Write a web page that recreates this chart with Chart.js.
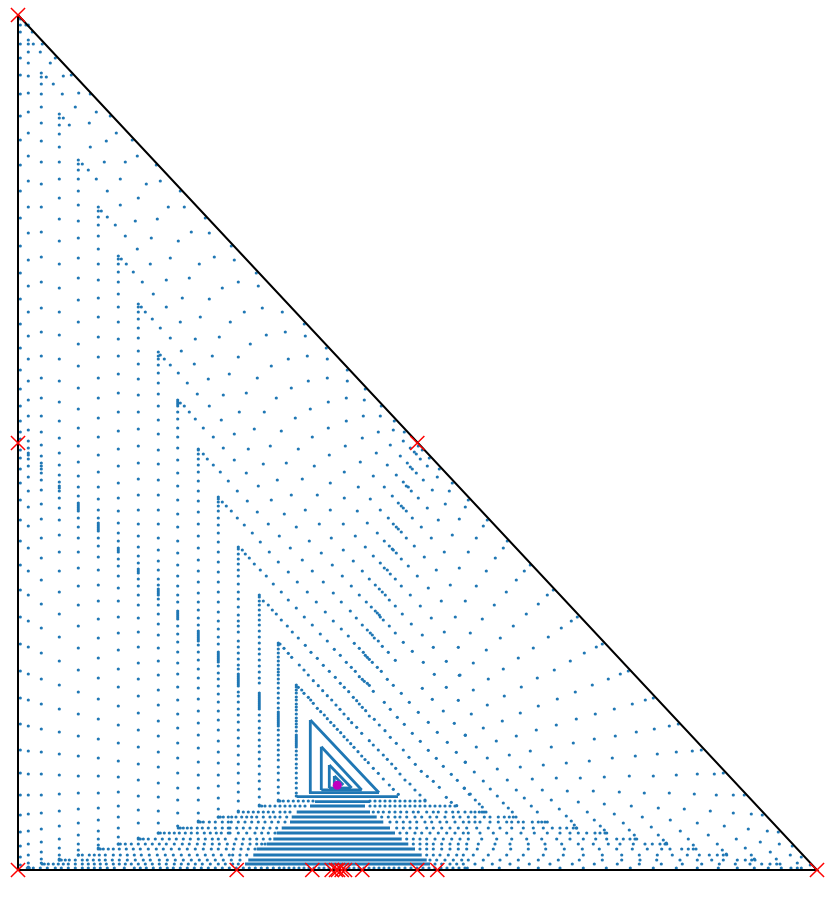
<!DOCTYPE html>
<html>
<head>
<meta charset="utf-8">
<script src="https://cdn.jsdelivr.net/npm/chart.js@4"></script>
<style>
html, body { margin: 0; padding: 0; background: #fff; }
canvas { display: block; }
</style>
</head>
<body>
<canvas id="field" width="840" height="898"></canvas>
<script>
const columnX = [2.3, 10.3, 23.3, 41.3, 60.3, 80.3, 100.3, 120.3, 140.3, 159.7, 180.3, 200.3, 220.3, 241.3, 260.3, 278.3];
const columnY = [
  [851,845,838,826,812,795,776,754,730,705,679,652,624,597,571,546,522,500,481,464,449,438,431,420,412,401,387,370,350,329,305,280,253,226,199,172,146,120,97,75,55,38,24,13,5],
  [845,830,826,818,807,794,777,758,737,714,689,663,637,610,584,558,534,511,489,470,454,440,429,422,417,415,411,404,393,379,363,344,322,299,275,249,223,196,170,144,119,96,75,56,39,26,15,7,3],
  [797,793,786,776,763,747,729,708,686,663,638,613,588,562,538,514,492,472,454,438,425,414,407,404,401,397,390,380,366,351,332,312,290,266,242,217,191,166,141,118,96,75,57,41,28,18,11,7],
  [756,752,745,736,723,708,691,672,651,629,606,582,558,535,511,489,468,449,432,417,405,395,388,384,382,379,372,362,350,335,318,299,278,256,233,209,185,161,138,116,95,76,59,44,31,22,15,11,10],
  [710,706,700,691,679,665,649,632,612,592,570,548,526,504,482,461,442,424,408,394,383,374,367,365,363,361,359,352,343,332,318,302,284,265,244,222,200,178,156,134,114,94,77,61,47,35,26,20,15],
  [663,659,653,645,634,621,606,590,572,553,533,513,492,472,452,433,415,398,383,371,360,352,347,345,343,341,339,332,324,313,300,285,269,251,232,212,192,171,151,131,112,94,77,62,50,39,31,25,22],
  [614,611,606,598,588,576,563,548,531,514,496,477,458,439,421,404,387,372,359,347,337,329,322,320,318,311,304,294,282,269,253,237,220,201,183,164,145,127,109,93,78,64,53,42,33,26],
  [566,563,558,551,542,532,519,506,491,475,458,441,424,407,391,375,360,346,334,323,314,307,301,299,297,291,284,275,265,252,238,223,207,191,174,157,140,123,106,90,74,60,47,32],
  [518,514,511,505,497,487,476,464,450,436,420,406,390,375,360,346,332,320,309,300,291,285,281,279,277,275,271,265,256,246,235,222,209,195,180,165,149,134,118,103,87,73,59,47,37],
  [470,468,466,464,458,451,442,433,422,410,397,384,370,356,343,329,317,305,294,284,275,268,259,257,255,253,251,244,236,228,218,207,196,183,170,156,142,127,112,97,82,70,57,44],
  [421,420,416,411,405,398,389,379,369,358,346,334,322,310,299,288,277,268,260,252,245,239,237,235,233,231,229,225,218,210,201,192,182,171,159,147,135,122,108,95,82,70,57,49],
  [373,371,368,364,359,352,345,337,328,318,308,298,288,278,268,258,249,241,233,226,218,216,214,212,210,208,204,197,191,184,176,168,159,150,140,129,118,107,95,84,72,61,53],
  [323,321,316,311,306,300,294,286,278,271,263,255,249,244,238,229,223,217,211,205,201,196,194,192,190,188,186,184,178,174,168,161,155,148,140,132,124,115,106,97,87,78,69,59],
  [275,273,269,265,260,255,250,245,239,233,227,221,216,210,204,198,192,187,177,175,173,171,169,167,165,163,161,155,149,142,137,130,124,118,111,104,96,89,81,73,65],
  [227,225,221,217,213,209,205,201,198,195,191,187,182,177,172,167,162,158,156,154,152,150,148,146,144,140,135,130,125,120,115,110,103,97,90,83,77,70],
  [185,183,180,177,173,170,166,163,160,156,152,149,146,143,139,135,133,131,129,127,125,123,119,115,111,106,102,97,92,87,82,77,74]
];

// horizontal rows near the bottom edge
const rowY = [69, 64, 58, 53, 48, 42, 37, 31, 26, 21, 15, 10, 6, 2];
const rowDotsX = [
  [260.3,262,265.3,270.3,275.3,280.3,285.3,290.3,295,352,357,362,367,372,377,382,387,392,397,402,407],
  [241.3,243.7,247,252,257,262,267,272,277,282,287,352,357,362,367,372,377,382,387,392,397,402,407,412,417,422,427,432,437],
  [220.3,225.3,230.3,235.3,240.3,245.3,250.3,255.3,262,267,272,355.3,360.3,365.3,371.3,377,382.7,388.7,395.3,400.3,408.7,415.3,420.3,428,434.7,440.3,447,453,457,461.3,464,466,468],
  [200.3,202.3,205.3,210.3,213.7,218,223.7,228.7,233.7,238.7,245.3,252,257,262,268.7,363.7,370.3,377,382,388.7,397,403.7,412,418.7,427,435.3,442,450.3,457,466.3,472,480.3,486.3,491.3,495.3,498],
  [180.3,182.3,185.3,191.3,197.3,204.3,210.3,213.3,220.3,227,233.7,240.3,247,253.7,260.3,267,372,378.7,385.3,392,398.7,407,413.7,422,428.7,437,445.3,451,457,462,472,480.3,488.7,493.7,500.3,505.3,514.3,520.3,523.7,527,529.3],
  [160.3,162.3,165.3,169.3,173.3,179.3,184.3,190.3,197.3,204.3,210.3,212,218.7,225.3,232,238.7,245.3,252,258.7,378.7,385.3,392,398.7,408.7,415.3,423.7,432,440.3,448.7,458.7,470.3,482,493.7,505.3,515.3,525.3,534.3,542,548.7,555.3,558.7],
  [140.3,142.3,146.3,151.3,156.3,161.3,167.3,173.3,179.3,186.3,192.3,198.3,203.3,210.3,212,220.3,228.7,237,243.7,250.3,257,382,388.7,397,403.7,412,420.3,428.7,437,445.3,450.3,462,475.3,488.7,503,516.3,529.3,542,552,560.3,568.7,577,582,587,588.7],
  [120.3,122.3,125.3,130.3,137.3,144.3,151.3,158.3,165.3,172.3,180.3,187.3,194.3,200.3,207.3,218,225.3,232,238.7,245.3,252,388.7,395.3,402,408.7,417,425.3,433.7,442,450.3,463.7,478.7,493.7,508.7,523.7,538.7,552,565.3,577.7,588.7,598.7,605.3,612,617,618.7],
  [100.3,102.3,107.3,113.3,120.3,127.3,134.3,141.3,148.3,156.3,164.3,171.3,179.3,186.3,194.3,201.3,209.3,216.3,224.3,232,238.7,243.7,247,395.3,402,408.7,415.3,423.7,432,440.3,448.7,460.3,477,492,510.3,527,543.7,560.3,575.3,590.3,602,615.3,627,634.3,642,647,648.7],
  [80.3,82.3,85.3,90.3,95.3,101.3,108.3,115.3,122.3,130.3,138.3,145.3,153.3,161.3,169.3,177.3,185.3,193.3,200.3,208.3,215.3,223,230.3,237,402,408.7,415.3,423.7,432,440.3,448.7,459.3,475.3,492.7,510.3,527.7,546.3,564.3,581.3,598.7,614.3,629.3,643.7,652,663.7,670.3,675.3,678],
  [60.3,64.3,71.3,76.3,81.3,87.3,95.3,102.3,109.3,116.3,123.3,131.3,139.3,147.3,155.3,163.3,171.3,179.3,187.3,195.3,203.3,211.3,214.7,222,228.7,408.7,415.3,422,430.3,438.7,445.3,455.3,470.3,488.7,505.3,525.3,545.3,565.3,584.3,603.7,621.3,639.3,654.3,669.3,681.3,691.3,699.3,705.3,708.7],
  [41.3,43.3,47.3,51.3,57.3,64.3,69.3,75.3,81.3,87.3,94.3,101.3,109.3,117.3,125.3,132.3,141.3,149.3,157.3,165.3,173.3,181.3,189.3,197.3,205.3,213.3,222,412,418.7,427,435.3,443.7,450.3,465.3,482,500.3,520.3,540.3,561.3,584.3,603.7,622,638.7,662,679.3,693.7,705.3,719.3,727.3,733.7,737],
  [24.3,26.3,30.3,35.3,40.3,45.3,50.3,57.3,64.3,70.3,76.3,82.3,88.3,95.3,101.3,107.3,113.3,120.3,127.3,134.3,141.3,148.3,156.3,163.3,170.3,177.3,184.3,192.3,200.3,207.3,214.7,220.3,417,423.7,432,438.7,445.3,457,474.3,492,511.3,532,554.3,576.3,599.3,621.3,643.3,664.3,683.7,701.3,717.3,732,743.7,752,758.7,762],
  [9.3,11.3,15.3,22.3,29.3,37.3,43.3,50.3,57.3,64.3,70.3,76.3,82.3,89.3,96.3,106.3,116.3,122.3,128.3,135.3,142.3,149.3,155.3,162.3,169.3,176.3,183.3,190.3,197.3,204.3,211.3,218.3,225.3,231.3,237.3,243.3,249.3,255.3,261.3,266,271,276,281,286,291,296,301,306,311,316,321,326,331,336,341,346,351,356,361,366,371,376,381,387,393,399,405,411,417,423,429,435,441,447,449.3,464.3,481.3,500.3,520.3,542,565.3,588.3,612.3,635.3,658.3,679.3,700.3,719.3,736.3,750.3,763.3,773,779.3,783.3]
];

// stretches where the dots overlap into a solid stroke
const runFromX = [278.7,297,292,278.7,273.7,272,263.7,258.7,255.3,248.7,238.7,235.3,230.3,227, 291,303.3,311, 292.3,303.3,311.3,316.3, 292.3,303.3,311.3,316.3];
const runFromY = [73.3,68.3,64,58,53,48,42,37,31,26,21,15,10,6, 77.3,80,82, 150,123.3,105,94, 150,123.3,105,94];
const runToX   = [380,352,347,352,358.7,365.3,372,377,383.7,390.3,397,403.7,408.7,412, 361,343.7,333, 292.3,303.3,311.3,316.3, 361,343.7,333.7,325.3];
const runToY   = [73.3,68.3,64,58,53,48,42,37,31,26,21,15,10,6, 77.3,80,82, 77,80,82,84, 77.3,80,82,85];

// every other dot, x,y pairs
const looseDots = [
  [8,845],[14.3,838],[15.3,826],[24.3,826],[22.3,818],[32.3,807],[37.3,812],[28.3,793],[35.3,786],[45.3,794],[53.3,795],[44.3,776],[72.3,776],[60.7,777],[45.3,752],[51.3,745],[57.3,763],[78.3,758],[92.3,754],[71.3,747],[98.3,737],[114.3,730],[88.3,729],[72.3,723],[119.3,714],[64.3,706],[70.3,700],[86.3,708],[107.3,708],[138.3,705],[78.3,691],[102.3,691],[128.3,686],[142.3,689],[89.3,679],[162.3,679],[120.3,672],[83.3,659],[102.3,665],[150.3,663],[166.3,663],[89.3,653],[117.3,649],[139.3,651],[187.3,652],[97.3,645],[107.3,634],[133.3,632],[173.3,638],[191.3,637],[160.3,629],[119.3,621],[213.3,624],[103.3,611],[108.3,606],[132.3,606],[152.3,612],[181.3,606],[196.3,613],[216.3,610],[115.3,598],[148.3,590],[124.3,588],[171.3,592],[220.3,588],[238.3,597],[240.3,584],[204.3,582],[135.3,576],[164.3,572],[191.3,571],
  [123.3,563],[127.3,558],[134.3,551],[148.3,563],[142.3,542],[162.3,548],[152.3,532],[182.3,553],[177.3,531],[163.3,519],[201.3,533],[212.3,548],[226.3,558],[244.3,562],[248.3,535],[232.3,526],[220.3,513],[194.3,514],[176.3,506],[253.3,504],[152.3,505],[146.3,511],[142.3,515],[160.3,497],[190.3,491],[211.3,496],[239.3,492],[169.3,487],[179.3,476],[205.3,475],[228.3,477],[258.3,472],[162.3,467],[166.3,464],[191.3,464],[171.3,458],[221.3,458],[246.3,458],[177.3,451],[203.3,450],[185.3,442],[236.3,441],[216.3,436],[195.3,433],[252.3,424],[205.3,422],[230.3,421],[185.3,416],[189.3,411],[216.3,410],[195.3,405],[245.3,406],[202.3,398],[228.3,397],[210.3,389],[259.3,390],[240.3,384],[219.3,379],[229.3,369],[253.3,370],[204.3,368],[208.3,364],[213.3,359],[239.3,358],[219.3,352],[250.3,346],[226.3,345],[234.3,337],[261.3,334],[242.3,328],[251.3,318],[224.3,320],[227.3,316],[231.3,312],[236.3,306],[260.3,308],[242.3,300],[248.3,294],[255.3,286],[245.3,269],[250.3,265],[254.3,260],[258.3,256],
  [264.3,558],[286.3,546],[267.3,538],[287.3,534],[308.3,522],[270.3,511],[289.3,514],[309.3,511],[329.3,500],[290.3,489],[309.3,492],[329.3,489],[273.3,482],[347.3,481],[328.3,472],[346.3,470],[310.3,468],[363.3,464],[292.3,461],[345.3,454],[362.3,454],[277.3,452],[328.3,449],[376.3,449],[310.3,442],[263.3,439],[360.3,438],[375.3,440],[386.3,438],[294.3,433],[344.3,432],[385.3,429],[372.3,425],[327.3,424],[392.3,422],[280.3,421],[400.3,424],[404.3,420],[358.3,417],[396.3,418],[398.3,416],[311.3,415],[382.3,414],[402.3,411],[411.3,412],[389.3,407],[342.3,408],[268.3,407],[369.3,405],[409.3,404],[296.3,404],[392.3,403],[394.3,401],[421.3,401],[398.3,397],[326.3,398],[378.3,395],[355.3,394],[419.3,393],[284.3,391],[405.3,390],[312.3,387],[434.3,387],[385.3,388],[388.3,384],[390.3,383],[340.3,383],[366.3,383],[393.3,379],[414.3,380],[431.3,379],[273.3,375],[299.3,375],[374.3,374],[326.3,372],[400.3,372],[352.3,371],[450.3,370],[427.3,366],[380.3,367],[383.3,364],[385.3,362],[388.3,359],[409.3,362],[447.3,363],[287.3,360],[312.3,360],[339.3,359],[362.3,360],[266.3,356],[370.3,352],[394.3,352],[441.3,351],[420.3,350],[469.3,350],[349.3,347],[301.3,346],[325.3,346],[375.3,346],[378.3,343],[380.3,341],[383.3,338],[278.3,343],[403.3,343],[465.3,344],[359.3,337],[388.3,332],[313.3,332],[337.3,334],[413.3,332],[434.3,335],[458.3,332],[489.3,329],[291.3,329],[366.3,329],[347.3,323],[371.3,324],[374.3,321],[375.3,320],[378.3,317],[396.3,324],[485.3,322],[272.3,322],[325.3,320],[426.3,318],[450.3,318],[303.3,317],[355.3,314],[383.3,311],[406.3,313],[477.3,312],[284.3,310],[335.3,309],[362.3,307],[390.3,304],[314.3,305],[441.3,302],[512.3,305],[366.3,302],[369.3,300],[372.3,296],[418.3,300],[270.3,298],[294.3,299],[344.3,299],[468.3,299],[506.3,299],[399.3,294],[324.3,294],[351.3,291],[377.3,291],[498.3,290],[279.3,288],[305.3,288],[333.3,284],[357.3,285],[432.3,285],[383.3,284],[458.3,284],[410.3,282],[361.3,281],[535.3,280],[263.3,278],[289.3,278],[315.3,277],[488.3,278],[364.3,278],[367.3,275],[341.3,275],[392.3,275],[529.3,275],[371.3,270],[348.3,268],[423.3,269],[447.3,269],[323.3,268],[270.3,270],[298.3,268],[377.3,264],[520.3,266],[402.3,264],[476.3,265],[278.3,262],[353.3,263],[307.3,258],[332.3,259],[357.3,259],[359.3,257],[361.3,255],[384.3,256],[508.3,256],[437.3,253],[338.3,252],[362.3,253],[286.3,253],[413.3,252],[464.3,251],[315.3,249],[365.3,250],[263.3,250],[393.3,246],[344.3,245],[269.3,244],[294.3,245],[371.3,244],[495.3,244],[323.3,241],[349.3,240],[274.3,238],[377.3,237],[426.3,238],[452.3,237],[302.3,236],[352.3,237],[354.3,235],[356.3,232],[330.3,234],[404.3,235],[280.3,232],[482.3,232],[530.3,233],
  [559.3,253],[553.3,249],[543.3,242],[584.3,226],[578.3,223],[515.3,222],[468.3,220],[566.3,217],[500.3,212],[552.3,209],[455.3,207],[485.3,201],[536.3,200],[610.3,199],[602.3,196],[442,195],[590.3,191],[470.3,191],[519.3,192],[574.3,185],[503.3,183],[455.3,180],[557.3,178],[486.3,174],[635.3,172],[627.3,170],[539.3,171],[614.3,166],[469.3,165],[520.3,164],[596.3,161],[577.3,156],[453.3,156],[502.3,157],[558.3,151],[484.3,149],[660.3,146],[651.3,144],[538.3,145],[465.3,142],[636.3,141],[518.3,140],[618.3,138],[447.3,135],[498.3,134],[597.3,134],[576.3,131],[478.3,129],[555.3,127],[458.3,123],[533.3,123],[683.3,120],[674.3,119],[658.3,118],[512.3,119],[639.3,116],[491.3,115],[617.3,114],[469.3,112],[594.3,112],[571.3,109],[447.3,108],[548.3,107],[525.3,105],[502.3,103],[479.3,101],[456.3,98],[705.3,97],[696.3,96],[679.3,96],[658.3,95],[635.3,94],[611.3,94],[586.3,93],[562.3,92],[538.3,92],[514.3,91],[489.3,90],[465.3,89],[446.3,82],[472.3,81],[498.3,80],[524.3,80],[549.3,79],[575.3,79],[601.3,78],[626.3,77],[651.3,77],[676.3,76],[698.3,75],[715.3,75],[726.3,75],[452.3,76],[479.3,74],[506.3,72],[457.3,70],[533.3,70],[560.3,68],[586.3,66],[613.3,64],[640.3,62],[666.3,61],[692.3,59],[715.3,57],[733.3,56],[744.3,55],[461.3,66],[485.3,67],[513.3,64],[464.3,63],[490.3,62],[541.3,61],[519.3,58],[569.3,58],[494.3,58],[596.3,56],[548.3,54],[624.3,53],[576.3,50],[652.3,50],[679.3,47],[553.3,49],[605.3,47],[633.3,43],[582.3,44],[706.3,44],[730.3,41],[662.3,39],[749.3,39],[760.3,38],[611.3,40],[586.3,40],[556.3,45],[558.3,42],[640.3,35],[690.3,35],[616.3,35],[718.3,31],[670.3,31],[645.3,30],[742.3,28],[761.3,26],[699.3,26],[675.3,25],[648.3,27],[774.3,24],[727.3,22],[704.3,20],[752.3,18],[772.3,15],[733.3,15],[708.3,16],[758.3,11],[783.3,13],[736.3,11],[779.3,7],[792.3,5],
  [262,226],[266,221.7],[270.3,216.7],[273.7,212.7],[281.3,205],[286,200],[290.3,195],[295.3,189.3],[300.3,184.3],[304.7,179.3],[309.3,174.3],[313.7,170],[318,165],[322,160.7],[326,156],[330.3,151.3],[333.7,147.3],[338.7,142.7],[343.7,136.7],[351.3,129.3],[355.3,125],[360.3,120],[365.3,115],[369.3,110.7],[373.7,106],[377.7,101.7],[382,96],[387,90],[392,86],[397,80],[402,75],[407,70],
  [280.3,182.7],[283.7,180],[286,176.7],[290.3,172.7],[292.7,170],[295.3,166.7],[299.3,161.7],[302.7,158.3],[306.3,155],[309.3,151.3],[312.7,147.7],[316,144.3],[319.3,140.7],[322.7,137.3],[326,133.3],[329.3,130],[332.7,126.3],[336,122.7],[340,118.3],[343.7,114],[347,110.5],[350.3,107.3],[355.3,101.7],[360.3,96.7],[365.3,91],[371.3,85],[375.3,80.7],[380.3,75.7],
  [287.3,224.7],[293,217.7],[299.3,211.7],[305.3,204.7],[311.3,198.7],[317.3,192.7],[322.3,186.7],[326.3,182.7],[330.7,178.3],[335.3,172.7],[338.7,169.3],[341.3,166],[344.3,162.7],[347.7,159.3],[351.3,154],[356.3,150.7],[361.3,145],[367,139.3],[372.3,132.7],[378.3,126.7],[385.3,120],[391,112.7],[397.3,105.7],[403.3,98.7],[409.3,93.7],[415.3,88.7],[421.3,82.7],[428.3,72.7],[433.3,67.7],[438.7,64.3],
  [309.3,229],[336.3,226.7],[341.3,221.7],[345.3,217.7],[347.3,214.7],[349.3,212.7],[351.3,210.7],[354.3,207.7],[360.3,229],[364.3,223.7],[370.3,217.7],[377.3,209.7],[385.3,227.7],[394.3,218.7],[405.3,207.7],[415.3,222.7],[428.3,208.7],[440.3,222.7],[441.3,194.7],[416.3,195.7],[404.3,181.7],[428.3,182.7],[440.3,169.7],[414.3,170.7],[425.3,159],[400.3,157.7],[391.3,167.7],[383.3,176.7],[375.3,184.7],[369.3,190.7],[363.3,198.7],[359.3,202.7],[355.3,178.7],[366.3,167.7],[372.3,160.7],[379.3,152.7],[386.3,145.7],[410.3,147.7],[436.3,146.7],[419.3,137.7],[394.3,136.7],[402.3,128.7],[429.3,127.7],[410.3,119.7],[438.3,117.7],[447.3,134.7],[418.3,111.7],[425.3,103.7],[433.3,95.7],[447.3,107.7],[446.3,81.7],[439.3,89.7],[451.3,75.7],[328.3,207.7],[333.3,202.7],[337.3,198.7],[341.3,193.3],[344.3,190.7],[346.3,188.7],[349.3,186.7],[351.3,184.7],[322.3,214.7],[316.3,220.7]
];

// red crosses and the magenta point
const crossX = [0, 0, 0, 399.3, 799, 218.7, 294.3, 313.7, 318, 320, 323.7, 327, 344.3, 399.3, 419.3];
const crossY = [855, 427, 0, 427, 0, 0, 0, 0, 0, 0, 0, 0, 0, 0, 0];
const centreX = [319.3];
const centreY = [84.7];
// outline of the triangle
const outlineX = [0, 0, 799, 0];
const outlineY = [855, 0, 0, 855];

const BLUE = '#1f77b4';

function xyPairs(xs, ys) {
  return xs.map((x, i) => ({ x: x, y: ys[i] }));
}

let dots = [];
columnX.forEach((x, i) => {
  columnY[i].forEach((y) => dots.push({ x: x, y: y }));
});
rowY.forEach((y, i) => {
  rowDotsX[i].forEach((x) => dots.push({ x: x, y: y }));
});
looseDots.forEach((p) => dots.push({ x: p[0], y: p[1] }));

const runSets = runFromX.map((x, i) => ({
  type: 'line',
  data: [{ x: x, y: runFromY[i] }, { x: runToX[i], y: runToY[i] }],
  borderColor: BLUE,
  borderWidth: 2.8,
  pointRadius: 0,
  clip: false,
  order: 5
}));

const ctx = document.getElementById('field').getContext('2d');
new Chart(ctx, {
  type: 'scatter',
  data: {
    datasets: [
      {
        data: xyPairs(centreX, centreY),
        backgroundColor: '#bf00bf',
        borderWidth: 0,
        pointRadius: 4.5,
        clip: false,
        order: 1
      },
      {
        data: xyPairs(crossX, crossY),
        pointStyle: 'crossRot',
        borderColor: '#ff0000',
        borderWidth: 1.5,
        pointRadius: 10,
        clip: false,
        order: 2
      },
      {
        type: 'line',
        data: xyPairs(outlineX, outlineY),
        borderColor: '#000000',
        borderWidth: 2,
        pointRadius: 0,
        clip: false,
        order: 3
      },
      ...runSets,
      {
        data: dots,
        backgroundColor: BLUE,
        borderWidth: 0,
        pointRadius: 1.6,
        clip: false,
        order: 6
      }
    ]
  },
  options: {
    responsive: false,
    animation: false,
    events: [],
    layout: { padding: { left: 18, right: 23, top: 15, bottom: 28 } },
    plugins: { legend: { display: false }, tooltip: { enabled: false } },
    scales: {
      x: { type: 'linear', display: false, min: 0, max: 799 },
      y: { type: 'linear', display: false, min: 0, max: 855 }
    }
  }
});
</script>
</body>
</html>
